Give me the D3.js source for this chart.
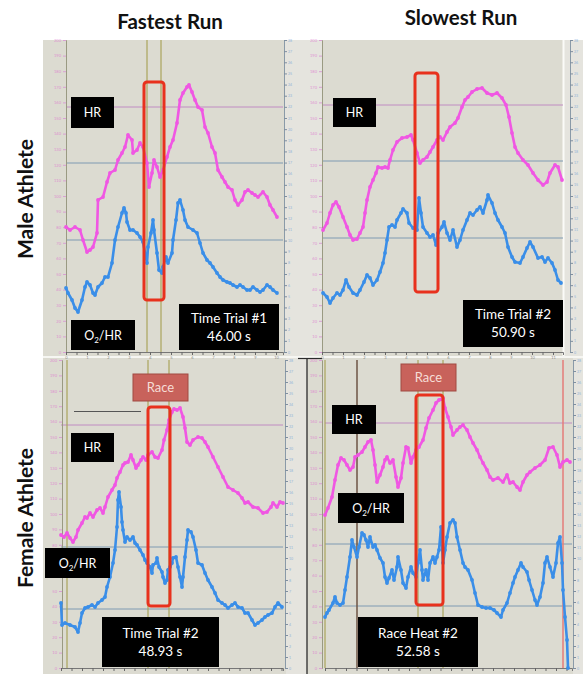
<!DOCTYPE html>
<html>
<head>
<meta charset="utf-8">
<script src="https://cdn.jsdelivr.net/npm/d3@7"></script>
<style>
  body { margin: 0; background: #fff; }
  svg { display: block; }
  text { font-family: Lato, "Open Sans", sans-serif; }
</style>
</head>
<body>
<svg></svg>
<script>
// ---- data (time in s from panel start, signal in display units) ----
var columnTitles = ['Fastest Run', 'Slowest Run'];
var rowTitles = ['Male Athlete', 'Female Athlete'];
var trialNames = ['Time Trial #1', 'Time Trial #2', 'Time Trial #2', 'Race Heat #2'];
var trialTimes = ['46.00 s', '50.90 s', '48.93 s', '52.58 s'];

var hrMaleFast = [[0,125],[4,122],[9,125],[14,122],[17,112],[21,100],[24,102],[27,105],[31,119],[32,152],[37,155],[41,170],[44,179],[49,182],[52,192],[56,199],[59,205],[62,217],[66,212],[67,199],[71,202],[74,209],[77,205],[81,189],[83,165],[86,179],[88,192],[91,185],[94,175],[97,182],[101,195],[104,205],[107,212],[111,229],[114,252],[117,259],[121,265],[123,267],[126,260],[129,252],[132,245],[136,242],[139,225],[142,219],[146,205],[149,199],[152,182],[156,175],[159,170],[162,165],[166,162],[169,152],[172,147],[176,152],[179,160],[182,162],[186,159],[189,157],[192,155],[197,160],[201,155],[204,147],[207,142],[211,135]];
var o2MaleFast = [[0,64],[2,59],[6,52],[9,44],[12,40],[16,52],[19,65],[21,70],[24,67],[27,59],[29,57],[32,65],[36,69],[39,75],[42,75],[46,89],[49,112],[52,125],[56,139],[58,144],[60,139],[61,130],[64,122],[67,122],[71,119],[74,115],[77,110],[81,89],[82,105],[85,119],[87,132],[88,122],[91,99],[93,82],[96,79],[97,85],[100,95],[102,89],[106,99],[107,112],[110,132],[112,149],[114,152],[117,142],[119,132],[122,125],[127,122],[131,119],[134,109],[137,99],[141,92],[144,89],[147,85],[151,79],[154,75],[157,72],[161,70],[164,69],[167,67],[171,65],[174,67],[177,65],[181,62],[184,62],[187,65],[191,62],[194,60],[197,62],[201,67],[204,65],[207,62],[211,59]];
var hrMaleSlow = [[1,122],[5,129],[8,139],[11,147],[14,150],[17,145],[21,135],[25,125],[28,117],[31,112],[35,113],[38,119],[41,125],[43,139],[45,152],[48,165],[51,172],[54,179],[56,185],[60,184],[63,185],[66,184],[68,192],[71,202],[75,210],[80,214],[85,215],[89,217],[91,212],[95,199],[98,189],[101,192],[105,195],[108,200],[111,205],[115,212],[118,215],[121,212],[125,220],[128,225],[133,229],[136,234],[140,245],[143,252],[146,255],[150,260],[155,263],[160,264],[165,259],[170,257],[175,259],[180,254],[184,247],[187,235],[190,219],[193,205],[196,199],[201,192],[206,187],[211,179],[216,172],[221,167],[225,170],[228,179],[233,187],[236,185],[240,172]];
var o2MaleSlow = [[1,59],[5,55],[8,49],[11,54],[15,59],[18,57],[21,62],[24,72],[27,65],[31,59],[35,57],[38,62],[42,70],[45,77],[48,74],[51,67],[55,72],[58,80],[61,89],[63,99],[65,112],[67,125],[70,127],[73,125],[75,132],[79,139],[81,143],[85,139],[87,129],[91,124],[95,122],[97,154],[99,139],[101,125],[105,119],[108,115],[111,117],[114,107],[116,119],[120,125],[122,130],[125,119],[128,112],[131,122],[135,105],[138,112],[141,122],[145,132],[148,139],[151,137],[155,142],[158,145],[161,139],[165,152],[166,157],[170,149],[173,139],[176,132],[180,125],[183,119],[186,105],[190,95],[193,90],[198,89],[201,95],[205,104],[208,110],[211,105],[216,94],[220,95],[223,90],[226,94],[230,89],[233,82],[236,72],[239,69]];
var hrFemaleFast = [[0,133],[3,131],[6,135],[9,130],[12,126],[15,131],[17,138],[21,145],[24,151],[26,150],[29,155],[32,151],[36,158],[39,160],[42,155],[44,161],[47,171],[51,178],[54,183],[56,190],[59,196],[62,203],[64,205],[67,206],[70,213],[72,208],[75,200],[77,203],[80,208],[82,211],[85,208],[87,213],[91,216],[94,211],[97,210],[101,218],[103,228],[106,238],[108,248],[111,256],[113,259],[116,258],[119,260],[122,251],[124,240],[126,226],[129,223],[132,228],[137,231],[141,230],[144,226],[147,221],[152,211],[157,201],[162,191],[167,181],[172,178],[177,175],[181,170],[184,165],[187,166],[192,161],[197,160],[202,155],[206,156],[210,161],[212,165],[216,161],[219,166],[222,165]];
var o2FemaleFast = [[0,65],[1,43],[4,45],[9,43],[14,41],[17,36],[19,45],[21,55],[24,60],[27,61],[31,63],[34,61],[37,65],[41,68],[44,71],[46,81],[49,91],[52,105],[54,118],[56,141],[57,168],[58,176],[60,161],[61,146],[62,138],[64,126],[66,131],[69,128],[72,131],[74,125],[76,123],[79,118],[82,113],[84,108],[86,105],[89,101],[91,95],[92,103],[95,105],[96,110],[98,101],[101,96],[102,91],[104,85],[106,88],[107,98],[109,101],[111,105],[112,110],[115,111],[117,101],[119,91],[121,81],[122,91],[124,111],[126,128],[127,138],[130,136],[132,131],[135,118],[137,105],[141,103],[144,95],[147,88],[151,81],[154,75],[157,68],[161,65],[164,63],[167,60],[171,63],[174,65],[177,61],[181,60],[184,55],[187,55],[191,48],[194,43],[197,45],[201,48],[204,51],[207,53],[211,55],[214,61],[217,65],[221,61]];
var hrFemaleSlow = [[0,153],[3,160],[7,171],[10,188],[13,203],[16,210],[19,208],[22,203],[25,198],[28,201],[30,211],[33,213],[37,216],[40,221],[43,226],[46,228],[48,218],[50,203],[52,186],[55,193],[58,201],[60,208],[62,211],[65,205],[68,208],[71,191],[73,181],[76,190],[78,205],[81,221],[83,220],[86,205],[88,211],[91,218],[94,221],[98,228],[101,240],[104,250],[108,258],[111,265],[114,268],[118,270],[120,260],[123,251],[126,241],[128,233],[132,238],[135,241],[138,243],[142,238],[145,231],[148,225],[152,218],[155,211],[158,205],[162,198],[165,191],[168,188],[173,190],[178,186],[182,193],[185,185],[188,186],[192,181],[195,178],[198,186],[202,193],[205,196],[210,200],[215,203],[220,208],[224,220],[228,221],[232,213],[235,201],[238,206],[242,208],[245,206]];
var o2FemaleSlow = [[0,51],[2,55],[4,58],[8,65],[10,71],[12,65],[15,63],[18,65],[20,78],[22,91],[25,111],[27,128],[29,121],[32,111],[34,121],[37,135],[39,133],[41,128],[43,121],[45,131],[48,121],[50,123],[52,118],[55,110],[58,105],[60,91],[62,85],[64,90],[67,98],[69,88],[72,101],[73,111],[76,98],[78,85],[81,80],[83,91],[86,101],[88,95],[91,91],[93,105],[95,118],[97,98],[98,88],[101,98],[103,88],[105,105],[108,111],[110,105],[112,111],[114,118],[116,141],[118,105],[120,118],[122,131],[125,145],[128,148],[130,145],[132,131],[135,118],[138,105],[140,101],[143,98],[147,88],[150,75],[153,63],[157,61],[161,60],[165,60],[169,58],[172,55],[176,51],[178,58],[182,65],[185,75],[188,85],[190,91],[193,98],[196,105],[198,101],[202,96],[204,88],[207,78],[210,68],[212,63],[215,71],[218,85],[220,105],[222,111],[225,101],[228,91],[231,105],[233,125],[235,131],[237,105],[238,78],[240,51],[242,28],[243,0]];

var hrSeries = [hrMaleFast, hrMaleSlow, hrFemaleFast, hrFemaleSlow];
var o2Series = [o2MaleFast, o2MaleSlow, o2FemaleFast, o2FemaleSlow];

// reference lines in each panel (signal units)
var hrGrid = [245, 247, 243, 245];
var o2Grid = [[189, 112], [191, 114], [121, 59], [124, 62]];
// highlighted race window: [tStart, tEnd, low, high]
var raceWindows = [[78, 98, 52, 270], [93, 116, 60, 279], [87, 109, 62, 261], [91, 118, 63, 273]];
// event markers (s) and their kind
var eventTimes = [[81, 95], [], [6, 87, 108], [0, 32, 93, 118, 238]];
var eventKinds = [['lap', 'lap'], [], ['lap', 'lap', 'lap'], ['lap', 'start', 'lap', 'lap', 'finish']];
var showO2Label = [true, false, true, true];
var showRaceLabel = [false, false, true, true];

// ---- layout ----
var W = 583, H = 674;
var layout = [
  {x0: 66, x1: 283, y0: 40, y1: 352, leftAx: 66, rightAx: 284, timeLabels: true,
   hrBox: [71, 97, 43, 31], o2Box: [71, 320, 64, 30], trialBox: [179, 304, 100, 46]},
  {x0: 322, x1: 563, y0: 40, y1: 352, leftAx: 322, rightAx: 570, timeLabels: true,
   hrBox: [333, 98, 43, 29], o2Box: null, trialBox: [463, 300, 100, 47]},
  {x0: 61, x1: 283, y0: 360, y1: 668, leftAx: 62, rightAx: 285, timeLabels: false,
   hrBox: [71, 433, 43, 29], o2Box: [45, 548, 65, 30], trialBox: [102, 617, 117, 50], raceBox: [133, 374, 55, 27]},
  {x0: 325, x1: 572, y0: 360, y1: 668, leftAx: 322, rightAx: 573, timeLabels: false,
   hrBox: [332, 405, 44, 29], o2Box: [338, 493, 66, 30], trialBox: [358, 617, 120, 50], raceBox: [401, 364, 55, 27]}
];

var PINK = '#f057e3', BLUE = '#3a8ee8';
var eventColor = {lap: '#aaa45c', start: '#6e5444', finish: '#e47c78'};

var svg = d3.select('svg').attr('width', W).attr('height', H);
svg.append('rect').attr('width', W).attr('height', H).attr('fill', '#fff');

// screenshot backgrounds
svg.append('rect').attr('x', 43).attr('y', 40).attr('width', W - 43).attr('height', H - 40).attr('fill', '#dcdbd1');
var strips = [[284, 40, 38, 316], [564, 40, 19, 316], [286, 358, 21, 316], [573, 358, 10, 316]];
svg.selectAll('rect.strip').data(strips).enter().append('rect')
  .attr('class', 'strip')
  .attr('x', function(d) { return d[0]; }).attr('y', function(d) { return d[1]; })
  .attr('width', function(d) { return d[2]; }).attr('height', function(d) { return d[3]; })
  .attr('fill', '#e5e4de');
svg.append('line').attr('x1', 43).attr('x2', W).attr('y1', 357).attr('y2', 357)
  .attr('stroke', '#f6f6f2').attr('stroke-width', 2);
svg.append('line').attr('x1', 563.5).attr('x2', 563.5).attr('y1', 40).attr('y2', 356)
  .attr('stroke', '#fbfbf8').attr('stroke-width', 2);
svg.append('line').attr('x1', 307).attr('x2', 307).attr('y1', 358).attr('y2', H)
  .attr('stroke', '#2b2b2b').attr('stroke-width', 1.3);
svg.append('line').attr('x1', 298).attr('x2', 322).attr('y1', 358.5).attr('y2', 358.5)
  .attr('stroke', '#2b2b2b').attr('stroke-width', 1.2);

function labelBox(g, b, fill, lines, size, textFill) {
  g.append('rect').attr('x', b[0]).attr('y', b[1]).attr('width', b[2]).attr('height', b[3])
    .attr('fill', fill);
  var cx = b[0] + b[2] / 2;
  var lh = size * 1.35;
  var top = b[1] + b[3] / 2 - (lines.length - 1) * lh / 2;
  lines.forEach(function(l, i) {
    g.append('text').attr('x', cx).attr('y', top + i * lh).attr('dy', '0.36em')
      .attr('text-anchor', 'middle').attr('font-size', size).attr('fill', textFill)
      .text(l);
  });
}

function drawPanel(i) {
  var L = layout[i];
  var g = svg.append('g').attr('class', 'panel');
  var x = d3.scaleLinear().domain([0, L.x1 - L.x0]).range([L.x0, L.x1]);
  var y = d3.scaleLinear().domain([0, L.y1 - L.y0]).range([L.y1, L.y0]);

  // grid lines
  g.append('line').attr('x1', L.x0).attr('x2', L.x1)
    .attr('y1', y(hrGrid[i])).attr('y2', y(hrGrid[i]))
    .attr('stroke', '#c08cc2').attr('stroke-width', 1);
  g.selectAll('line.o2grid').data(o2Grid[i]).enter().append('line')
    .attr('class', 'o2grid')
    .attr('x1', L.x0).attr('x2', L.x1)
    .attr('y1', function(d) { return y(d); }).attr('y2', function(d) { return y(d); })
    .attr('stroke', '#7f9ab2').attr('stroke-width', 1);

  // event markers
  g.selectAll('line.event').data(eventTimes[i]).enter().append('line')
    .attr('class', 'event')
    .attr('x1', function(d) { return x(d); }).attr('x2', function(d) { return x(d); })
    .attr('y1', L.y0).attr('y2', L.y1)
    .attr('stroke', function(d, j) { return eventColor[eventKinds[i][j]]; })
    .attr('stroke-width', function(d, j) { return eventKinds[i][j] === 'lap' ? 1.2 : 1.5; });

  // axes: HR (left), O2/HR (right), time (bottom)
  var hrAxisScale = d3.scaleLinear().domain([0, 200]).range([L.y1, L.y0]);
  var o2AxisScale = d3.scaleLinear().domain([0, 28]).range([L.y1, L.y0]);
  var left = g.append('g').attr('transform', 'translate(' + L.leftAx + ',0)')
    .call(d3.axisLeft(hrAxisScale).tickValues(d3.range(0, 201, 10)).tickSize(3).tickPadding(2));
  left.selectAll('text').attr('font-size', 4).attr('fill', '#e070d0').attr('opacity', 0.7);
  left.selectAll('line').attr('stroke', '#d9a0d4');
  left.select('.domain').attr('stroke', '#9a9a82').attr('stroke-width', 1);

  var right = g.append('g').attr('transform', 'translate(' + L.rightAx + ',0)')
    .call(d3.axisRight(o2AxisScale).tickValues(d3.range(0, 29, 1)).tickSize(3).tickPadding(1));
  right.selectAll('text').attr('font-size', 3.5).attr('fill', '#6aa0d8').attr('opacity', 0.7);
  right.selectAll('line').attr('stroke', '#7f8fa0');
  right.select('.domain').attr('stroke', '#8a9aa8').attr('stroke-width', 1);

  var bottom = g.append('g').attr('transform', 'translate(0,' + L.y1 + ')')
    .call(d3.axisBottom(x).tickValues(d3.range(0, L.x1 - L.x0, 10.5)).tickSize(3).tickPadding(1)
      .tickFormat(function(d, j) { return (!L.timeLabels || j % 2) ? '' : j / 2; }));
  bottom.selectAll('text').attr('font-size', 4).attr('fill', '#666').attr('opacity', 0.7);
  bottom.selectAll('line').attr('stroke', '#666');
  bottom.select('.domain').attr('stroke', '#777');

  // traces
  var line = d3.line().x(function(d) { return x(d[0]); }).y(function(d) { return y(d[1]); });
  [[hrSeries[i], PINK], [o2Series[i], BLUE]].forEach(function(s) {
    g.append('path').datum(s[0]).attr('d', line)
      .attr('fill', 'none').attr('stroke', s[1]).attr('stroke-width', 2.6)
      .attr('stroke-linejoin', 'round');
    g.selectAll(null).data(s[0]).enter().append('circle')
      .attr('cx', function(d) { return x(d[0]); }).attr('cy', function(d) { return y(d[1]); })
      .attr('r', 1.9).attr('fill', s[1]);
  });

  // race window highlight
  var rw = raceWindows[i];
  g.append('rect').attr('x', x(rw[0])).attr('y', y(rw[3]))
    .attr('width', x(rw[1]) - x(rw[0])).attr('height', y(rw[2]) - y(rw[3]))
    .attr('rx', 3).attr('fill', 'none').attr('stroke', '#e8311d').attr('stroke-width', 3);

  // labels
  labelBox(g, L.hrBox, '#000', ['HR'], 12.5, '#fff');
  if (showO2Label[i]) {
    var b = L.o2Box;
    g.append('rect').attr('x', b[0]).attr('y', b[1]).attr('width', b[2]).attr('height', b[3]).attr('fill', '#000');
    var t = g.append('text').attr('x', b[0] + b[2] / 2).attr('y', b[1] + b[3] / 2).attr('dy', '0.36em')
      .attr('text-anchor', 'middle').attr('font-size', 12.5).attr('fill', '#fff');
    t.append('tspan').text('O');
    t.append('tspan').attr('font-size', 8).attr('dy', 3).text('2');
    t.append('tspan').attr('dy', -3).text('/HR');
  }
  labelBox(g, L.trialBox, '#000', [trialNames[i], trialTimes[i]], 13.5, '#fff');
  if (showRaceLabel[i]) {
    var rb = L.raceBox;
    g.append('rect').attr('x', rb[0]).attr('y', rb[1]).attr('width', rb[2]).attr('height', rb[3])
      .attr('fill', '#c8625b').attr('stroke', '#a04a43').attr('stroke-width', 1);
    g.append('text').attr('x', rb[0] + rb[2] / 2).attr('y', rb[1] + rb[3] / 2).attr('dy', '0.36em')
      .attr('text-anchor', 'middle').attr('font-size', 13).attr('fill', '#f6dcd6').text('Race');
  }
}

// female fast-run reference bar
svg.append('line').attr('x1', 74).attr('x2', 141).attr('y1', 411.5).attr('y2', 411.5)
  .attr('stroke', '#555').attr('stroke-width', 1);

layout.forEach(function(L, i) { drawPanel(i); });

// titles
var colX = [170, 461], colY = [29, 25];
svg.selectAll('text.col').data(columnTitles).enter().append('text')
  .attr('class', 'col')
  .attr('x', function(d, i) { return colX[i]; }).attr('y', function(d, i) { return colY[i]; })
  .attr('text-anchor', 'middle').attr('font-size', 20.5).attr('font-weight', 700).attr('fill', '#111')
  .text(function(d) { return d; });
var rowY = [199, 518];
svg.selectAll('text.row').data(rowTitles).enter().append('text')
  .attr('class', 'row')
  .attr('transform', function(d, i) { return 'translate(33,' + rowY[i] + ') rotate(-90)'; })
  .attr('text-anchor', 'middle').attr('font-size', 21).attr('font-weight', 700).attr('fill', '#111')
  .text(function(d) { return d; });
</script>
</body>
</html>
